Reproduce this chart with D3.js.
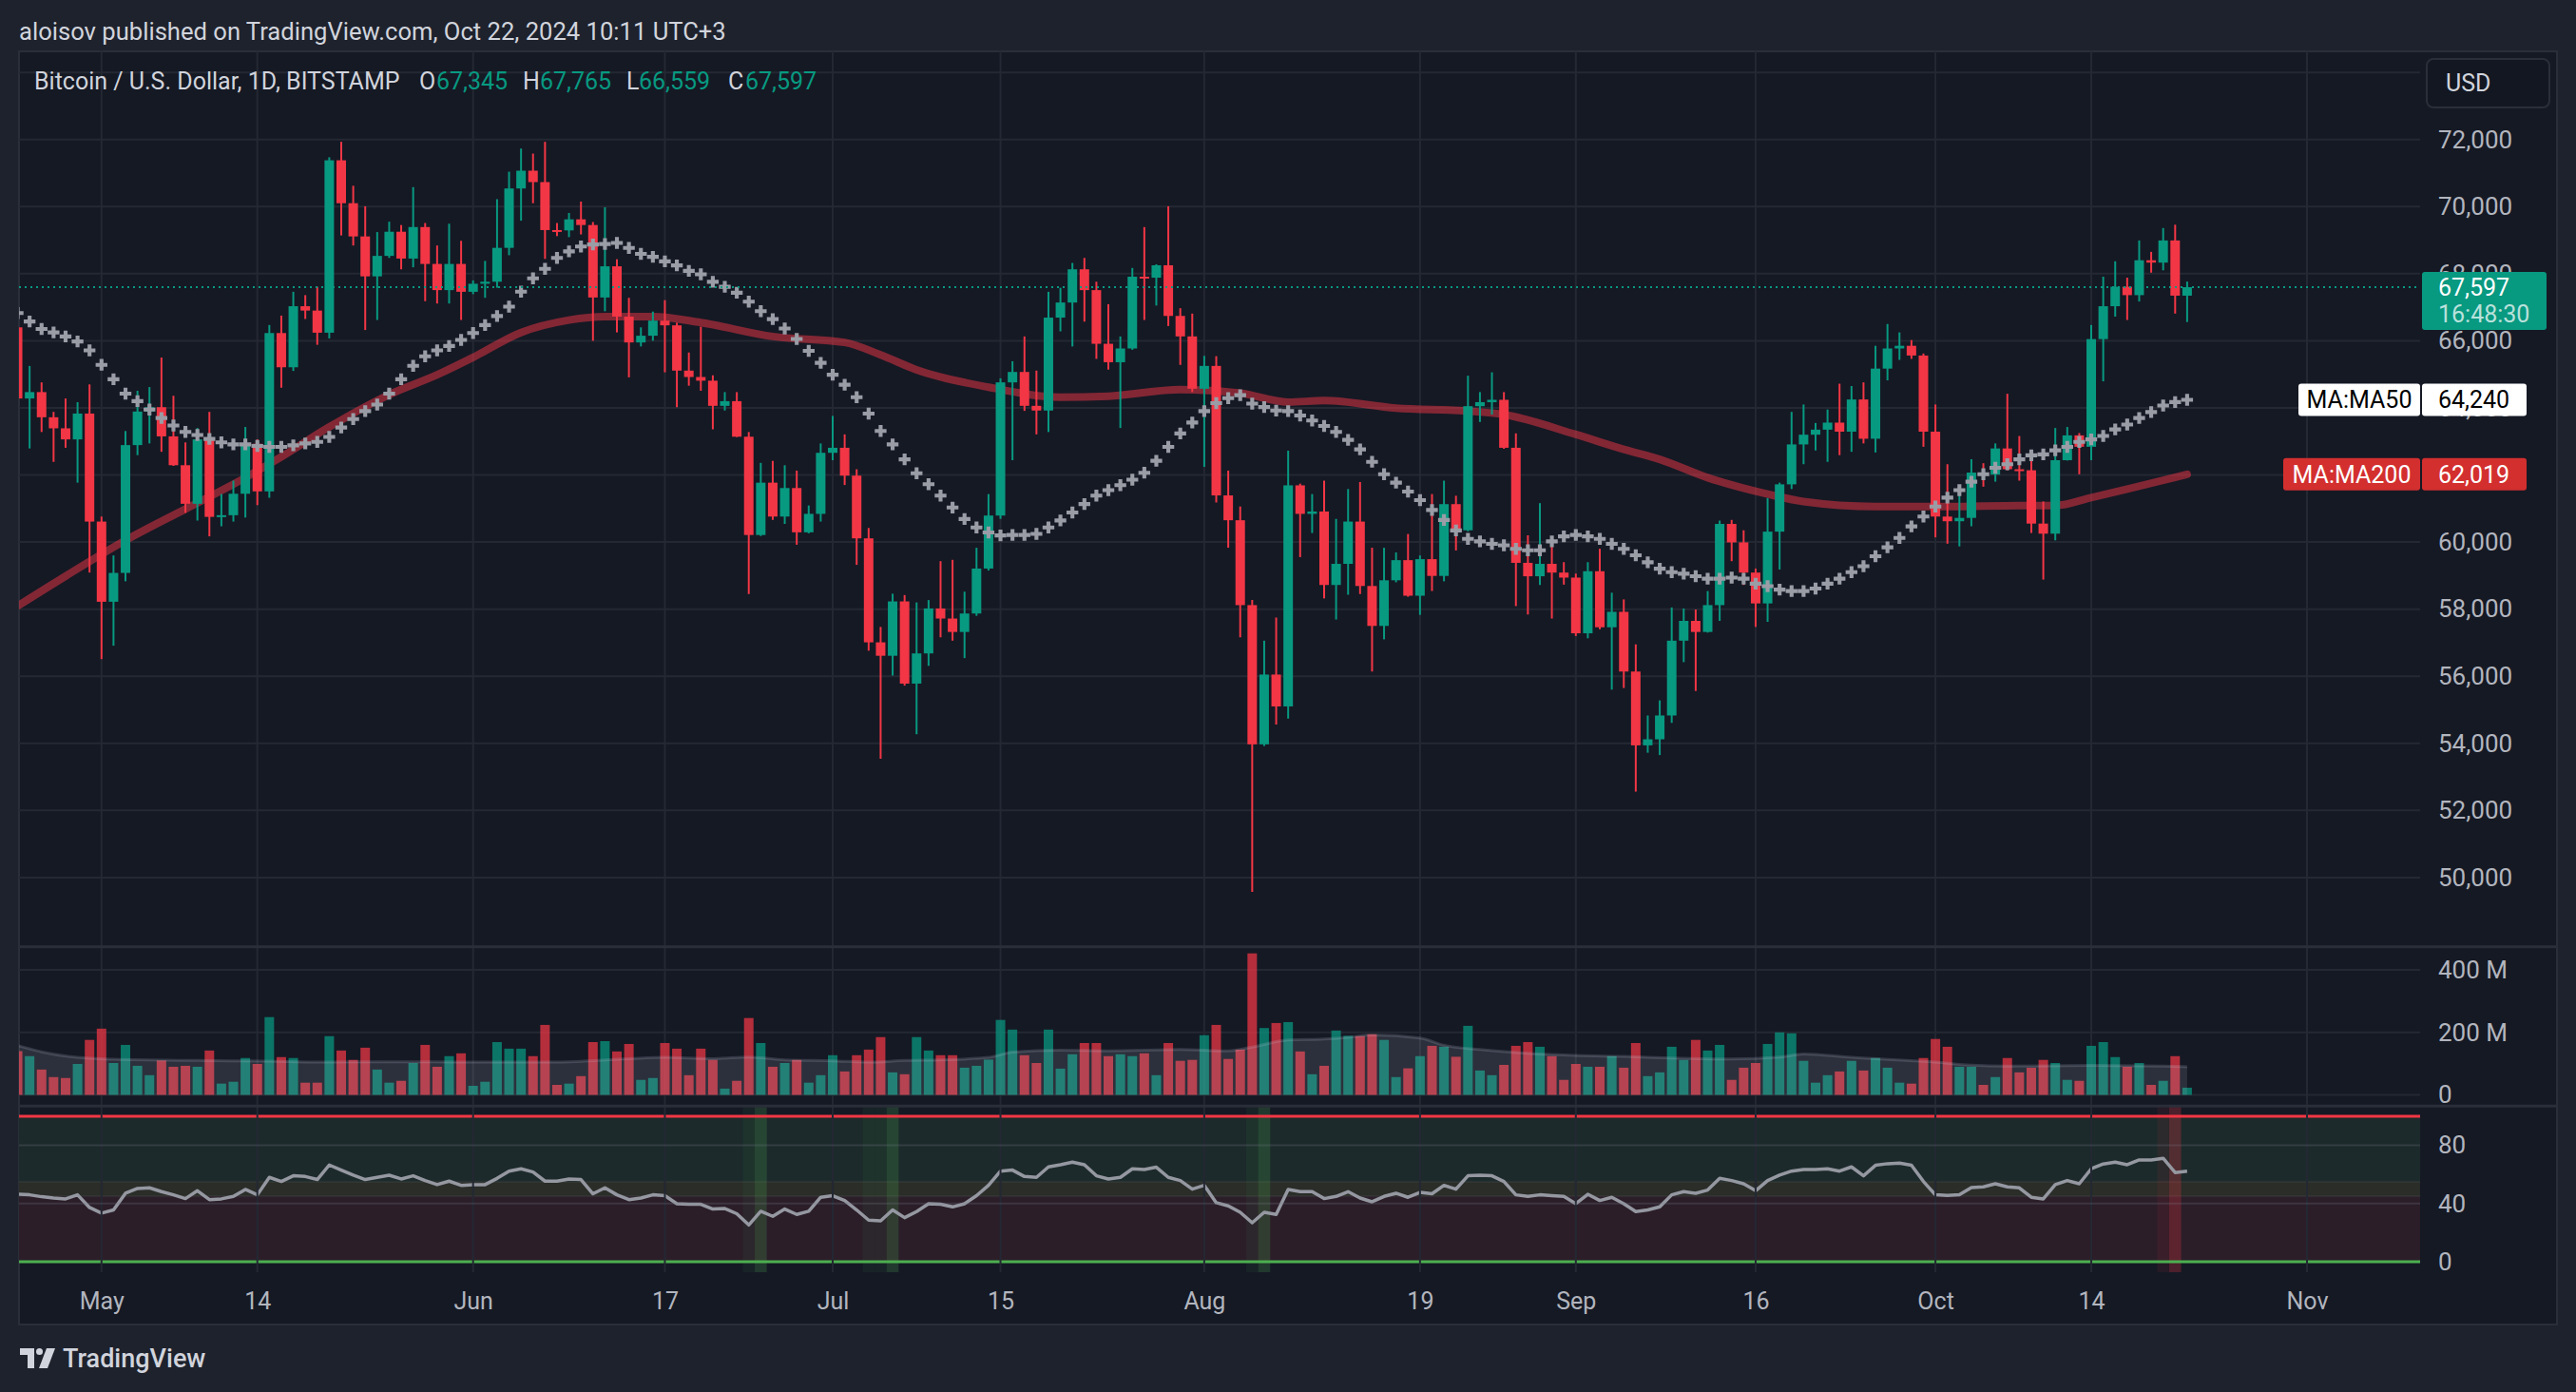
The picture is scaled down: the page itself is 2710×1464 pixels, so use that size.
<!DOCTYPE html>
<html><head><meta charset="utf-8">
<script src="https://cdn.jsdelivr.net/npm/d3@7"></script>
<style>
html,body{margin:0;padding:0;background:#1e222d;overflow:hidden}
svg{display:block}
text{font-family:Roboto,'Noto Sans','DejaVu Sans',sans-serif}
</style></head>
<body><svg id="c" width="2710" height="1464"></svg>
<script>
// ---------------- DATA ----------------
const firstDay = "2024-04-24", lastDay = "2024-10-22";
const opens = [66400,64280,64470,63720,63390,63060,63830,
 60610,58220,59080,62890,63890,64020,63150,62290,61140,63060,60750,60800,61440,62930,61510,66230,65210,67030,66900,66240,71380,70100,69110,67920,68530,69250,68450,69390,68290,67510,68290,
 67460,67700,67760,68770,70540,71070,70730,69300,69290,69620,69450,67290,68220,66720,65950,66150,66600,66460,65110,64920,64810,64060,64200,63140,60210,61770,60760,61610,60290,60840,
 62660,62810,61980,60110,57010,56610,58230,55780,56680,58020,57720,57320,57870,59210,60790,64760,65070,64060,63920,66690,67140,68130,67510,65910,65360,65770,67910,67880,68250,66740,66130,
 64570,65250,61390,60650,58120,53970,56050,55100,61690,60840,60910,58720,59350,60610,58690,57500,58860,59460,58400,59490,58990,61130,60350,64050,64170,64240,62810,59380,58980,59350,59090,
 58940,57280,59130,57460,57920,56140,53940,54120,54830,57060,57650,57320,58120,60540,59990,59090,58170,60310,61720,62910,63200,63350,63560,63290,64250,63080,65170,65770,65850,65560,
 63290,60760,60620,60720,62070,62010,62790,62170,62140,60550,60250,62440,63180,62840,66050,67030,67610,67360,68400,68330,68990,67345];
const highs = [67070,65250,64760,63880,64280,64170,64700,
 60760,59600,63310,64510,64620,65500,64360,62970,63400,63880,61430,61830,63430,63060,66470,66750,67460,67360,67610,71470,71930,70620,70010,69240,69550,69450,70580,69510,68840,69490,68980,
 67800,68380,70220,71040,71730,71580,71930,69510,69810,70150,69540,69980,68430,67280,66400,66870,67210,66540,65650,66420,64970,64470,64470,63280,62360,62420,62290,62130,61090,62940,
 63760,63210,62170,60420,57470,58460,58420,58200,58270,59430,59470,58520,59830,61430,64880,65390,66130,65110,67460,67580,68320,68470,67760,67090,66130,68170,69390,68280,70010,66970,66810,
 65550,65540,62130,61060,58270,57060,57750,62720,61740,61430,61830,60690,61580,61790,59830,59830,59690,60240,59600,61430,61830,61380,64960,64470,65060,64470,63240,60200,61160,59900,59400,
 59060,59400,59800,58490,58290,56950,54830,55280,58050,58020,57990,58540,60640,60660,60350,59210,61310,61770,63880,64100,63550,63950,64720,64650,64760,65850,66500,66250,66020,65620,
 64100,62320,61500,62470,62350,62940,64420,63160,62500,61210,63400,63430,63250,66470,67910,68370,67880,68990,68650,69360,69460,67765];
const lows = [63880,62790,63280,62390,62810,61770,59090,
 56510,56910,58830,62590,62940,62690,62270,60870,60640,60170,60470,60610,60730,61100,61320,64600,65100,66650,65880,66070,69140,68840,66320,66620,68470,68130,68190,67180,67110,67110,66620,
 67390,67280,67580,68550,69580,70100,68440,69120,69090,69170,66000,66880,66250,64910,65830,66000,65060,64020,64660,64510,63360,63920,63130,58450,60180,60660,60540,59920,60260,60610,
 62440,61700,59320,56760,53540,56020,55720,54270,56310,57160,57060,56540,57800,59150,60690,62440,63910,63210,63280,66280,65830,66570,65460,65140,63400,65730,66620,67050,66440,65280,64470,
 62240,61180,59830,57160,49570,53920,54560,54740,59550,60270,58320,57690,58430,58450,56140,57100,58800,58370,57830,58540,58830,59750,60320,63580,63800,62780,58090,57840,58720,57720,58730,
 57200,57130,57400,55600,55650,52560,53720,53650,54610,56420,55560,57300,57650,59430,58720,57470,57620,59180,61580,62320,62730,62390,62590,62690,62940,62670,64820,65430,65460,62840,
 60140,59950,59870,60470,61650,61800,62140,61830,60270,58880,60050,62430,62020,62440,64790,66720,66620,67170,68030,68100,66810,66559];
const closes = [64280,64470,63720,63390,63060,63830,60610,
 58220,59080,62890,63890,64020,63150,62290,61140,63060,60750,60800,61440,62930,61510,66230,65210,67030,66900,66240,71380,70100,69110,67920,68530,69250,68450,69390,68290,67510,68290,67460,
 67700,67760,68770,70540,71070,70730,69300,69290,69620,69450,67290,68220,66720,65950,66150,66600,66460,65110,64920,64810,64060,64200,63140,60210,61770,60760,61610,60290,60840,62660,
 62810,61980,60110,57010,56610,58230,55780,56680,58020,57720,57320,57870,59210,60790,64760,65070,64060,63920,66690,67140,68130,67510,65910,65360,65770,67910,67880,68250,66740,66130,64570,
 65250,61390,60650,58120,53970,56050,55100,61690,60840,60910,58720,59350,60610,58690,57500,58860,59460,58400,59490,58990,61130,60350,64050,64170,64240,62810,59380,58980,59350,59090,58940,
 57280,59130,57460,57920,56140,53940,54120,54830,57060,57650,57320,58120,60540,59990,59090,58170,60310,61720,62910,63200,63350,63560,63290,64250,63080,65170,65770,65850,65560,63290,
 60760,60620,60720,62070,62010,62790,62170,62140,60550,60250,62440,63180,62840,66050,67030,67610,67360,68400,68330,68990,67345,67597];
// daily volume, millions
const volumes = [140,124,81,57,54,99,176,
 212,102,160,93,63,110,90,93,90,142,36,42,118,99,249,121,118,39,39,188,142,112,151,81,39,45,102,160,90,124,133,
 29,42,169,148,148,124,224,32,36,60,169,172,139,163,48,54,166,148,63,148,112,20,45,246,166,90,102,112,39,63,
 127,75,127,145,185,72,66,185,142,127,127,87,93,113,240,209,127,102,209,84,130,166,166,124,130,124,133,63,166,109,112,
 191,224,115,145,453,214,230,233,139,66,93,206,189,188,194,176,57,85,124,157,154,122,221,78,63,96,157,169,154,124,48,
 99,90,90,124,87,166,60,72,154,112,176,142,160,48,87,102,163,200,197,109,39,63,75,109,78,118,87,39,36,118,
 179,154,90,90,32,57,118,72,87,112,102,48,45,157,169,121,90,102,32,45,124,23];
const volMaDates = ["2024-04-24","2024-04-26","2024-04-29","2024-05-02","2024-05-09","2024-05-15","2024-05-19","2024-05-25","2024-06-01","2024-06-08","2024-06-14","2024-06-17","2024-06-21","2024-06-24","2024-06-27","2024-07-01","2024-07-04","2024-07-07","2024-07-10","2024-07-14","2024-07-16","2024-07-20","2024-07-24","2024-07-30","2024-08-03","2024-08-05","2024-08-08","2024-08-11","2024-08-13","2024-08-15","2024-08-19","2024-08-21","2024-08-24","2024-08-28","2024-09-01","2024-09-05","2024-09-09","2024-09-14","2024-09-18","2024-09-20","2024-09-24","2024-10-01","2024-10-04","2024-10-07","2024-10-14","2024-10-20","2024-10-22"];
const volMaValues = [158,138,120,114,110,108,105,106,105,105,116,120,116,121,112,109,105,110,112,120,137,143,141,145,141,153,176,179,184,192,182,159,145,133,126,123,118,115,121,131,120,105,95,92,94,92,90];
const ma50Values = [66825,66573,66350,66247,66128,65980,65713,
 65283,64853,64423,64201,63949,63697,63474,63282,63192,63074,62970,62911,62911,62866,62837,62837,62881,62940,62985,63133,63415,63667,63904,64097,64423,64853,65253,65535,65713,65846,66024,
 66232,66469,66736,67017,67462,67862,68144,68470,68663,68811,68871,68886,68915,68767,68589,68500,68367,68248,68085,67981,67759,67610,67433,67166,66884,66647,66365,66054,65698,65342,
 64986,64690,64319,63830,63311,62911,62466,62051,61725,61384,61028,60687,60435,60287,60198,60213,60213,60242,60435,60643,60880,61132,61384,61547,61695,61858,62066,62422,62837,63237,63563,
 63904,64142,64290,64379,64127,64023,63919,63904,63771,63622,63460,63282,63044,62763,62392,62022,61770,61503,61251,60954,60658,60346,60094,60020,59946,59902,59798,59753,59753,60020,60168,
 60213,60168,60094,59946,59798,59605,59397,59205,59101,59057,58982,58908,58908,58938,58908,58760,58686,58582,58538,58538,58612,58760,58908,59101,59279,59576,59842,60124,60465,60761,
 61058,61325,61547,61799,62022,62214,62318,62466,62585,62615,62733,62837,62985,63059,63163,63356,63504,63697,63875,64068,64171,64240];
const ma200Dates = ["2024-04-24","2024-04-28","2024-05-03","2024-05-08","2024-05-12","2024-05-16","2024-05-20","2024-05-25","2024-05-29","2024-06-01","2024-06-05","2024-06-09","2024-06-12","2024-06-16","2024-06-20","2024-06-26","2024-07-02","2024-07-05","2024-07-08","2024-07-14","2024-07-20","2024-07-24","2024-07-30","2024-08-04","2024-08-08","2024-08-11","2024-08-17","2024-08-23","2024-08-26","2024-09-01","2024-09-05","2024-09-08","2024-09-12","2024-09-17","2024-09-20","2024-09-26","2024-10-02","2024-10-08","2024-10-11","2024-10-14","2024-10-17","2024-10-22"];
const ma200Values = [58093,58983,60050,60984,61725,62540,63430,64394,64986,65505,66247,66617,66721,66721,66543,66128,65950,65580,65135,64616,64319,64349,64542,64438,64171,64216,63993,63904,63800,63207,62763,62466,61918,61429,61206,61058,61058,61088,61088,61325,61577,62019];
const rsiValues = [46.4,46.0,44.7,43.8,43.2,46.0,37.3,
 33.4,35.6,47.1,50.4,50.8,48.2,46.0,43.4,48.8,42.7,43.2,44.9,49.7,46.0,58.0,55.2,59.1,58.6,56.5,66.5,63.0,59.5,56.5,58.0,59.5,56.9,59.1,55.8,53.0,55.4,52.5,
 53.0,53.0,57.3,62.3,63.9,61.7,55.4,55.4,56.9,56.5,46.7,50.8,46.0,42.7,43.8,46.0,45.4,39.9,39.5,39.5,36.2,36.6,33.0,25.3,34.7,31.2,36.2,32.5,34.7,44.3,
 45.4,42.1,35.6,28.6,28.1,35.6,30.3,34.5,39.9,39.5,37.7,39.9,45.4,52.5,62.3,63.0,58.6,58.0,65.2,66.7,68.5,66.7,59.1,56.9,58.0,63.9,63.4,65.0,58.0,55.8,49.9,
 52.5,40.6,38.4,34.0,26.8,34.0,32.5,49.7,48.2,48.2,43.4,44.9,48.2,43.8,41.2,44.9,47.1,44.3,47.7,46.7,52.5,49.9,59.1,59.5,59.1,55.2,46.0,44.9,46.0,45.4,44.9,
 39.9,46.4,42.1,44.3,39.9,34.5,35.6,37.7,46.0,48.2,47.1,49.3,57.3,55.8,53.6,48.8,55.8,59.5,62.3,63.4,63.4,63.9,62.3,65.2,59.1,66.3,67.4,67.8,66.3,55.2,
 46.0,45.6,46.0,51.0,51.5,53.6,51.5,50.8,44.3,43.2,53.0,55.8,53.6,63.9,67.2,68.5,66.7,70.0,70.0,71.1,61.3,62.3];
const rsiBullBright = ["2024-06-25","2024-07-06","2024-08-06"];
const rsiBullDim = ["2024-06-24","2024-07-04","2024-07-05","2024-08-05"];
const rsiBearBright = ["2024-10-21"];
const rsiBearDim = ["2024-10-20"];
const xTickDates = ["2024-05-01","2024-05-14","2024-06-01","2024-06-17","2024-07-01","2024-07-15","2024-08-01","2024-08-19","2024-09-01","2024-09-16","2024-10-01","2024-10-14","2024-11-01"];
const xTickLabels = ["May","14","Jun","17","Jul","15","Aug","19","Sep","16","Oct","14","Nov"];
const priceTicks = [50000,52000,54000,56000,58000,60000,62000,64000,66000,68000,70000,72000];
const priceGrid = [50000,52000,54000,56000,58000,60000,62000,64000,66000,68000,70000,72000,74000];
const volTicks = [0,200,400];
const rsiTicks = [0,40,80];
const titleText = "aloisov published on TradingView.com, Oct 22, 2024 10:11 UTC+3";
const symbolText = "Bitcoin / U.S. Dollar, 1D, BITSTAMP";
const countdownText = "16:48:30";

// ---------------- LAYOUT ----------------
const W=2710, H=1464;
const FX0=20, FY0=54, FX1=2690, FY1=1393, PR=2546;
const P_TOP=54, P_BOT=995, V_TOP=996, V_BOT=1163, R_TOP=1164, R_BOT=1338;
const UP="#089981", DN="#f23645", GRID="#242833", TXT="#b2b5be";

const parse = d3.utcParse("%Y-%m-%d");
const dates = d3.utcDay.range(parse(firstDay), d3.utcDay.offset(parse(lastDay),1));
const x = d3.scaleUtc().domain([parse("2024-05-01"), parse("2024-11-01")]).range([106.8, 2427.0]);
const dayW = x(parse("2024-05-02")) - x(parse("2024-05-01"));
const y = d3.scaleLinear().domain([50000,72000]).range([922.9,146.7]);
const yv = d3.scaleLinear().domain([0,400]).range([1151.5,1020.1]);
const yr = d3.scaleLinear().domain([0,100]).range([1327,1174]);
const fmt = d3.format(",");

const svg = d3.select("#c");
const defs = svg.append("defs");
function clip(id,x0,y0,w,h){defs.append("clipPath").attr("id",id).append("rect").attr("x",x0).attr("y",y0).attr("width",w).attr("height",h);}
clip("cp",FX0,P_TOP,PR-FX0,P_BOT-P_TOP);
clip("cv",FX0,V_TOP,PR-FX0,V_BOT-V_TOP);
clip("cr",FX0,R_TOP,PR-FX0,R_BOT-R_TOP);

svg.append("rect").attr("width",W).attr("height",H).attr("fill","#1e222d");
svg.append("rect").attr("x",FX0).attr("y",FY0).attr("width",FX1-FX0).attr("height",FY1-FY0)
  .attr("fill","#151924").attr("stroke","#2a2e39").attr("stroke-width",2);

// header
svg.append("text").attr("x",20).attr("y",42).attr("fill","#d1d4dc").attr("font-size",25.6).text(titleText);

// RSI bands (under grid)
const rsiG = svg.append("g").attr("clip-path","url(#cr)");
rsiG.append("rect").attr("x",FX0).attr("width",PR-FX0).attr("y",yr(100)).attr("height",yr(55)-yr(100)).attr("fill","#1c2a2b");
rsiG.append("rect").attr("x",FX0).attr("width",PR-FX0).attr("y",yr(55)).attr("height",yr(45)-yr(55)).attr("fill","#2a2d28");
rsiG.append("rect").attr("x",FX0).attr("width",PR-FX0).attr("y",yr(45)).attr("height",yr(0)-yr(45)).attr("fill","#2b1e29");
[55,45].forEach(v=>rsiG.append("line").attr("x1",FX0).attr("x2",PR).attr("y1",yr(v)).attr("y2",yr(v)).attr("stroke","rgba(255,255,255,0.06)").attr("stroke-width",2));

// gridlines
const gridG = svg.append("g");
xTickDates.forEach(d=>{
  gridG.append("line").attr("x1",x(parse(d))).attr("x2",x(parse(d))).attr("y1",P_TOP).attr("y2",R_BOT)
    .attr("stroke",GRID).attr("stroke-width",2);
});
priceGrid.forEach(v=>gridG.append("line").attr("x1",FX0).attr("x2",PR).attr("y1",y(v)).attr("y2",y(v)).attr("stroke",GRID).attr("stroke-width",2));
volTicks.forEach(v=>gridG.append("line").attr("x1",FX0).attr("x2",PR).attr("y1",yv(v)).attr("y2",yv(v)).attr("stroke",GRID).attr("stroke-width",2));
[40,80].forEach(v=>gridG.append("line").attr("x1",FX0).attr("x2",PR).attr("y1",yr(v)).attr("y2",yr(v)).attr("stroke","rgba(120,125,140,0.25)").attr("stroke-width",2));

// pane separators
[995.7,1163.3].forEach(v=>svg.append("line").attr("x1",FX0).attr("x2",FX1).attr("y1",v).attr("y2",v).attr("stroke","#2a2e39").attr("stroke-width",3));

// ---------- price pane ----------
const pG = svg.append("g").attr("clip-path","url(#cp)");
const ma200 = ma200Dates.map((d,i)=>({d:parse(d),v:ma200Values[i]}));
pG.append("path").datum(ma200).attr("fill","none").attr("stroke","rgba(242,54,69,0.5)").attr("stroke-width",8)
  .attr("stroke-linecap","round")
  .attr("d",d3.line().x(p=>x(p.d)).y(p=>y(p.v)).curve(d3.curveMonotoneX));

const candles = dates.map((d,i)=>({d,o:opens[i],h:highs[i],l:lows[i],c:closes[i]}));
const cg = pG.selectAll("g.c").data(candles).join("g");
cg.append("line").attr("x1",c=>x(c.d)).attr("x2",c=>x(c.d)).attr("y1",c=>y(c.h)).attr("y2",c=>y(c.l))
  .attr("stroke",c=>c.c>=c.o?UP:DN).attr("stroke-width",2);
cg.append("rect").attr("x",c=>x(c.d)-5).attr("width",10)
  .attr("y",c=>y(Math.max(c.o,c.c))).attr("height",c=>Math.max(2,Math.abs(y(c.o)-y(c.c))))
  .attr("fill",c=>c.c>=c.o?UP:DN);

const cross = d3.symbol().type(d3.symbolCross).size(85);
pG.selectAll("path.ma50").data(dates).join("path").attr("class","ma50")
  .attr("transform",(d,i)=>`translate(${x(d)},${y(ma50Values[i])})`).attr("d",cross).attr("fill","#9a9da6");

// current price dotted line
const last = closes.length-1;
pG.append("line").attr("x1",FX0).attr("x2",PR).attr("y1",y(closes[last])).attr("y2",y(closes[last]))
  .attr("stroke",UP).attr("stroke-width",2).attr("stroke-dasharray","2,4");

// legend
const lg = svg.append("text").attr("y",94).attr("font-size",25).attr("fill","#d1d4dc");
lg.append("tspan").attr("x",36).text(symbolText);
const ohlc = [["O",opens[last],441,459],["H",highs[last],550,568],["L",lows[last],659,672],["C",closes[last],766,784]];
ohlc.forEach(([k,v,x1,x2])=>{
  lg.append("tspan").attr("x",x1).text(k);
  lg.append("tspan").attr("x",x2).attr("fill",UP).text(fmt(v));
});

// ---------- volume pane ----------
const vG = svg.append("g").attr("clip-path","url(#cv)");
vG.selectAll("rect").data(dates).join("rect")
  .attr("x",d=>x(d)-5).attr("width",10)
  .attr("y",(d,i)=>yv(volumes[i])).attr("height",(d,i)=>yv(0)-yv(volumes[i]))
  .attr("fill",(d,i)=>closes[i]>=opens[i]?"rgba(8,153,129,0.72)":"rgba(242,54,69,0.72)");
const vma = volMaDates.map((d,i)=>({d:parse(d),v:volMaValues[i]}));
vG.append("path").datum(vma).attr("fill","rgba(200,205,225,0.13)")
  .attr("d",d3.area().x(p=>x(p.d)).y0(yv(0)).y1(p=>yv(p.v)).curve(d3.curveMonotoneX));
vG.append("path").datum(vma).attr("fill","none").attr("stroke","rgba(200,205,225,0.18)").attr("stroke-width",3)
  .attr("d",d3.line().x(p=>x(p.d)).y(p=>yv(p.v)).curve(d3.curveMonotoneX));

// ---------- RSI pane ----------
function hl(list,color){
  list.forEach(d=>rsiG.append("rect").attr("x",x(parse(d))-dayW/2).attr("width",dayW)
    .attr("y",R_TOP).attr("height",R_BOT-R_TOP).attr("fill",color));
}
hl(rsiBullDim,"rgba(76,175,80,0.07)");
hl(rsiBullBright,"rgba(76,175,80,0.22)");
hl(rsiBearDim,"rgba(242,54,69,0.08)");
hl(rsiBearBright,"rgba(242,54,69,0.25)");
rsiG.append("line").attr("x1",FX0).attr("x2",PR).attr("y1",yr(100)).attr("y2",yr(100)).attr("stroke","#f23645").attr("stroke-width",3);
rsiG.append("line").attr("x1",FX0).attr("x2",PR).attr("y1",yr(0)).attr("y2",yr(0)).attr("stroke","#4caf50").attr("stroke-width",3);
rsiG.append("path").datum(rsiValues).attr("fill","none").attr("stroke","#9598a1").attr("stroke-width",3.5)
  .attr("stroke-linejoin","round")
  .attr("d",d3.line().x((v,i)=>x(dates[i])).y(v=>yr(v)));

// ---------- axes ----------
function styleAxis(g){
  g.select(".domain").remove();
  g.selectAll("text").attr("font-size",26).attr("fill",TXT).attr("font-family","Roboto,'Noto Sans',sans-serif");
}
svg.append("g").attr("transform",`translate(${PR},0)`)
  .call(d3.axisRight(y).tickValues(priceTicks).tickSize(0).tickPadding(19).tickFormat(fmt)).call(styleAxis);
svg.append("g").attr("transform",`translate(${PR},0)`)
  .call(d3.axisRight(yv).tickValues(volTicks).tickSize(0).tickPadding(19).tickFormat(v=>v?v+" M":"0")).call(styleAxis);
svg.append("g").attr("transform",`translate(${PR},0)`)
  .call(d3.axisRight(yr).tickValues(rsiTicks).tickSize(0).tickPadding(19)).call(styleAxis);
svg.append("g").attr("transform",`translate(0,${R_BOT})`)
  .call(d3.axisBottom(x).tickValues(xTickDates.map(parse)).tickSize(0).tickPadding(21).tickFormat((d,i)=>xTickLabels[i]))
  .call(styleAxis).selectAll("text").attr("font-size",25);

// USD box
svg.append("rect").attr("x",2553).attr("y",62).attr("width",129).attr("height",51).attr("rx",7)
  .attr("fill","#131722").attr("stroke","#2a2e39").attr("stroke-width",2);
svg.append("text").attr("x",2573).attr("y",96).attr("font-size",25).attr("fill","#d1d4dc").text("USD");

// current price label (covers the 68,000 tick label as in the reference)
const cy = y(closes[last]);
svg.append("rect").attr("x",2548).attr("y",cy-16).attr("width",131).attr("height",61).attr("rx",3).attr("fill",UP);
svg.append("text").attr("x",2565).attr("y",cy+9).attr("font-size",25).attr("fill","#ffffff").text(fmt(closes[last]));
svg.append("text").attr("x",2565).attr("y",cy+37).attr("font-size",25).attr("fill","rgba(255,255,255,0.72)").text(countdownText);

// MA labels
function maLabel(name,val,bg,fg,w1){
  const yy = y(val);
  svg.append("rect").attr("x",PR-w1).attr("y",yy-17).attr("width",w1).attr("height",34).attr("rx",3).attr("fill",bg);
  svg.append("rect").attr("x",2548).attr("y",yy-17).attr("width",110).attr("height",34).attr("rx",3).attr("fill",bg);
  svg.append("text").attr("x",PR-w1/2).attr("y",yy+9).attr("text-anchor","middle").attr("font-size",25).attr("fill",fg).text(name);
  svg.append("text").attr("x",2565).attr("y",yy+9).attr("font-size",25).attr("fill",fg).text(fmt(Math.round(val)));
}
maLabel("MA:MA50",ma50Values[last],"#ffffff","#000000",128);
maLabel("MA:MA200",ma200Values[ma200Values.length-1],"#d32f2f","#ffffff",144);

// TradingView logo
const logo = svg.append("g").attr("transform","translate(21,1418)").attr("fill","#d1d4dc");
logo.append("path").attr("d","M0 0 H15 V21 H8 V7 H0 Z");
logo.append("circle").attr("cx",20.5).attr("cy",3.5).attr("r",3.5);
logo.append("path").attr("d","M28 0 H37 L29 21 H20 Z");
svg.append("text").attr("x",66).attr("y",1438).attr("font-size",27).attr("font-weight",500).attr("fill","#d1d4dc").text("TradingView");
</script></body></html>
